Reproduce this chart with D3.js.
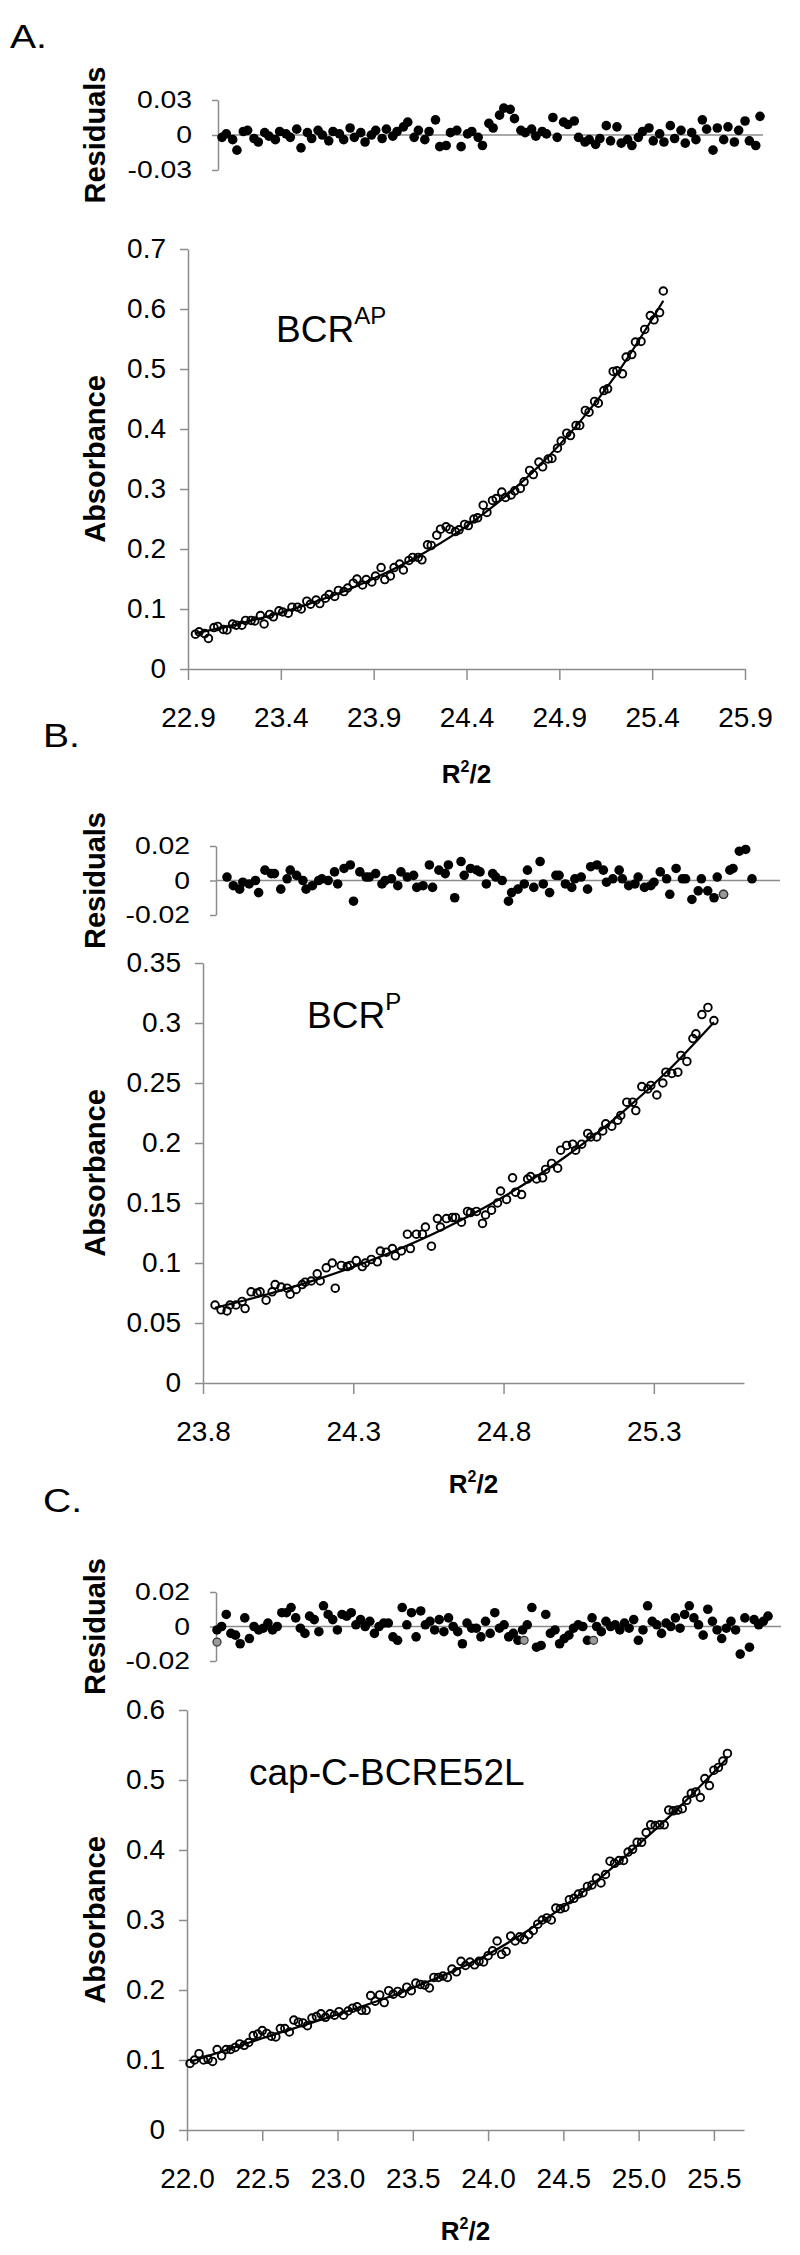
<!DOCTYPE html>
<html>
<head>
<meta charset="utf-8">
<script src="https://cdnjs.cloudflare.com/ajax/libs/d3/7.8.5/d3.min.js"></script>
<style>
  body { margin: 0; background: #fff; }
  svg text { font-family: "Liberation Sans", Arial, sans-serif; fill: #000; }
</style>
</head>
<body>
<div id="chart"></div>
<script>
'use strict';

// ---------- panel A : BCR^AP ----------
const xA = [22.94,22.96,22.99,23.01,23.04,23.06,23.09,23.11,23.14,23.16,23.19,23.21,23.24,23.26,23.29,23.31,23.34,23.36,23.39,23.41,
            23.44,23.46,23.49,23.51,23.54,23.56,23.59,23.61,23.64,23.66,23.69,23.71,23.74,23.76,23.79,23.81,23.84,23.86,23.89,23.91,
            23.94,23.96,23.99,24.01,24.04,24.06,24.09,24.11,24.14,24.16,24.19,24.21,24.24,24.26,24.29,24.31,24.34,24.36,24.39,24.41,
            24.44,24.46,24.49,24.51,24.54,24.56,24.59,24.61,24.64,24.66,24.69,24.71,24.74,24.76,24.79,24.81,24.84,24.86,24.89,24.91,
            24.94,24.96,24.99,25.01,25.04,25.06,25.09,25.11,25.14,25.16,25.19,25.21,25.24,25.26,25.29,25.31,25.34,25.36,25.39,25.41,
            25.44,25.46];
const absA = [.058,.062,.059,.051,.069,.071,.066,.065,.075,.073, .073,.081,.081,.080,.089,.075,.091,.087,.097,.095,
              .093,.103,.103,.100,.113,.108,.115,.109,.118,.124, .121,.131,.129,.135,.143,.150,.140,.149,.145,.155,
              .169,.149,.155,.169,.175,.165,.181,.186,.186,.182, .207,.206,.223,.233,.237,.233,.229,.232,.241,.239,
              .250,.252,.273,.261,.281,.284,.295,.286,.290,.297, .301,.312,.331,.324,.345,.337,.350,.351,.368,.380,
              .393,.389,.406,.406,.431,.428,.446,.443,.464,.467, .496,.497,.492,.520,.524,.545,.546,.566,.589,.582,
              .594,.630];
const resA = [-.002,.001,-.004,-.013,.003,.004,-.003,-.006,.002,-.001, -.004,.003,.001,-.002,.005,-.011,.002,-.003,.004,.000,
              -.005,.003,.001,-.004,.006,-.002,.002,-.006,.000,.004, -.003,.005,-.001,.003,.007,.011,-.002,.004,-.004,.003,
              .013,-.010,-.009,.002,.004,-.010,.001,.003,-.002,-.009, .010,.006,.017,.023,.022,.014,.004,.002,.005,-.001,
              .003,.001,.015,-.002,.011,.009,.012,-.002,-.006,-.004, -.008,-.003,.008,-.005,.007,-.007,-.004,-.009,-.002,.003,
              .006,-.005,.001,-.006,.008,-.003,.004,-.007,.002,-.004, .013,.005,-.013,.006,-.004,.007,-.006,.004,.012,-.005,
              -.009,.016];
const fitXA = [22.94,23.2,23.5,23.8,24.1,24.4,24.6,24.8,25.0,25.2,25.46];
const fitYA = [0.0596,0.0774,0.1034,0.1372,0.1811,0.2381,0.2852,0.3414,0.4081,0.4876,0.6138];
const greyXA = [];
const greyResA = [];
const xTicksA = [22.9,23.4,23.9,24.4,24.9,25.4,25.9];
const yTicksA = [0,0.1,0.2,0.3,0.4,0.5,0.6,0.7];
const resTicksA = [-0.03,0,0.03];

// ---------- panel B : BCR^P ----------
const xB = [23.84,23.86,23.88,23.89,23.91,23.93,23.94,23.96,23.98,23.99,24.01,24.03,24.04,24.06,24.08,24.09,24.11,24.13,24.14,24.16,
            24.18,24.19,24.21,24.23,24.24,24.26,24.28,24.29,24.31,24.33,24.34,24.36,24.38,24.39,24.41,24.43,24.44,24.46,24.48,24.49,
            24.51,24.53,24.54,24.56,24.58,24.59,24.61,24.63,24.64,24.66,24.68,24.69,24.71,24.73,24.74,24.76,24.78,24.79,24.81,24.83,
            24.84,24.86,24.88,24.89,24.91,24.93,24.94,24.96,24.98,24.99,25.01,25.03,25.04,25.06,25.08,25.09,25.11,25.13,25.14,25.16,
            25.18,25.19,25.21,25.23,25.24,25.26,25.28,25.29,25.31,25.33,25.34,25.36,25.38,25.39,25.41,25.43,25.44,25.46,25.48,25.50];
const absB = [.065,.061,.060,.065,.065,.068,.062,.076,.075,.076, .069,.076,.082,.080,.079,.074,.078,.082,.084,.085,
              .091,.085,.096,.100,.079,.098,.097,.098,.102,.097, .100,.103,.101,.110,.109,.112,.106,.110,.124,.112,
              .124,.124,.130,.114,.137,.130,.137,.138,.138,.134, .143,.142,.143,.133,.140,.144,.150,.160,.153,.171,
              .159,.157,.170,.172,.170,.171,.178,.183,.179,.194, .198,.199,.194,.199,.208,.205,.205,.210,.216,.214,
              .219,.223,.234,.234,.227,.247,.245,.248,.240,.250, .259,.258,.259,.273,.268,.287,.291,.307,.313,.302];
const resB = [.002,-.003,-.005,-.001,-.002,.000,-.007,.006,.004,.004, -.005,.001,.006,.003,.000,-.005,-.003,.000,.001,.000,
              .005,-.002,.007,.009,-.012,.005,.002,.002,.004,-.002, .000,.001,-.003,.005,.002,.003,-.004,-.003,.009,-.004,
              .006,.004,.009,-.010,.011,.003,.007,.006,.005,-.002, .004,.002,.000,-.012,-.007,-.005,-.002,.006,-.004,.011,
              -.002,-.007,.003,.003,-.002,-.004,.001,.002,-.005,.008, .009,.006,-.001,.001,.006,.001,-.003,-.002,.002,-.004,
              -.003,-.001,.005,.001,-.008,.007,.001,.001,-.011,-.006, .001,-.006,-.010,.002,-.008,.006,.007,.017,.018,.001];
const fitXB = [23.84,24.0,24.2,24.4,24.6,24.8,25.0,25.2,25.35,25.5];
const fitYB = [0.0626,0.0729,0.0880,0.1063,0.1284,0.1552,0.1875,0.2265,0.2610,0.3007];
const greyXB = [25.41];
const greyResB = [-0.008];
const xTicksB = [23.8,24.3,24.8,25.3];
const yTicksB = [0,0.05,0.1,0.15,0.2,0.25,0.3,0.35];
const resTicksB = [-0.02,0,0.02];

// ---------- panel C : cap-C-BCRE52L ----------
const xC = [22.02,22.05,22.08,22.11,22.14,22.17,22.20,22.23,22.26,22.29,22.32,22.35,22.38,22.41,22.44,22.47,22.50,22.53,22.56,22.59,
            22.62,22.65,22.68,22.71,22.74,22.77,22.80,22.83,22.86,22.89,22.92,22.95,22.98,23.01,23.04,23.07,23.10,23.13,23.16,23.19,
            23.22,23.25,23.28,23.31,23.34,23.37,23.40,23.43,23.46,23.49,23.52,23.55,23.58,23.61,23.64,23.67,23.70,23.73,23.76,23.79,
            23.82,23.85,23.88,23.91,23.94,23.97,24.00,24.03,24.06,24.09,24.12,24.15,24.18,24.21,24.24,24.27,24.30,24.33,24.36,24.39,
            24.42,24.45,24.48,24.51,24.54,24.57,24.60,24.63,24.66,24.69,24.72,24.75,24.78,24.81,24.84,24.87,24.90,24.93,24.96,24.99,
            25.02,25.05,25.08,25.11,25.14,25.17,25.20,25.23,25.26,25.29,25.32,25.35,25.38,25.41,25.44,25.47,25.50,25.53,25.56,25.59];
const absC = [.095,.100,.109,.100,.101,.098,.115,.106,.115,.115, .118,.123,.121,.125,.135,.137,.142,.138,.134,.133,
              .145,.145,.140,.157,.154,.153,.149,.160,.162,.166, .161,.166,.164,.169,.164,.170,.174,.176,.171,.171,
              .192,.184,.193,.182,.199,.194,.198,.195,.204,.199, .210,.208,.207,.203,.218,.218,.220,.218,.230,.226,
              .241,.235,.240,.236,.241,.240,.249,.256,.270,.251, .255,.277,.270,.276,.272,.279,.285,.294,.300,.303,
              .300,.317,.316,.318,.329,.331,.337,.339,.348,.350, .360,.353,.365,.384,.381,.385,.385,.397,.401,.411,
              .411,.425,.436,.435,.436,.436,.457,.456,.457,.459, .471,.481,.483,.475,.502,.492,.514,.518,.527,.538];
const resC = [-.002,.000,.007,-.004,-.005,-.010,.005,-.007,.000,-.002, -.001,.002,-.002,.000,.008,.008,.011,.005,-.001,-.004,
              .006,.004,-.003,.012,.007,.004,-.002,.007,.006,.008, .001,.004,.000,.003,-.004,.000,.002,.002,-.006,-.008,
              .011,.001,.008,-.006,.009,.001,.003,-.002,.004,-.003, .005,.000,-.003,-.010,.002,-.001,-.001,-.006,.003,-.004,
              .008,-.001,.001,-.006,-.004,-.008,-.002,.001,.011,-.012, -.011,.007,-.004,-.002,-.010,-.007,-.005,-.001,.001,.000,
              -.008,.005,.000,-.003,.003,.000,.001,-.002,.002,-.001, .004,-.008,-.002,.012,.003,.001,-.004,.002,.000,.005,
              -.001,.007,.012,.005,.001,-.005,.010,.003,-.002,-.007, -.001,.003,-.002,-.016,.005,-.012,.004,.001,.003,.006];
const fitXC = [22.02,22.5,23.0,23.5,24.0,24.25,24.5,24.75,25.0,25.25,25.59];
const fitYC = [0.0974,0.131,0.165,0.203,0.251,0.283,0.319,0.361,0.408,0.457,0.5316];
const greyXC = [22.02,24.01,24.46];
const greyResC = [-0.009,-0.008,-0.008];
const xTicksC = [22.0,22.5,23.0,23.5,24.0,24.5,25.0,25.5];
const yTicksC = [0,0.1,0.2,0.3,0.4,0.5,0.6];
const resTicksC = [-0.02,0,0.02];

// layout of the three stacked panels (pixels)
const panels = [
  { letter: 'A.', letterX: 10, letterY: 48,
    x: xA, abs: absA, res: resA, fitX: fitXA, fitY: fitYA, greyX: greyXA, greyRes: greyResA,
    xDomain: [22.9, 25.9], yMax: 0.7, xTicks: xTicksA, yTicks: yTicksA,
    resMax: 0.03, resTicks: resTicksA,
    resAxisX: 218, resTop: 100, resBottom: 170, resDataL: 222, resDataR: 760, resLineR: 763,
    left: 188, right: 745, top: 249, bottom: 669, xLabelY: 783,
    title: 'BCR', sup: 'AP', titleX: 276, titleY: 342 },
  { letter: 'B.', letterX: 43, letterY: 747,
    x: xB, abs: absB, res: resB, fitX: fitXB, fitY: fitYB, greyX: greyXB, greyRes: greyResB,
    xDomain: [23.8, 25.6], yMax: 0.35, xTicks: xTicksB, yTicks: yTicksB,
    resMax: 0.02, resTicks: resTicksB,
    resAxisX: 216, resTop: 846, resBottom: 915, resDataL: 227, resDataR: 752, resLineR: 780,
    left: 203, right: 744, top: 963, bottom: 1383, xLabelY: 1493,
    title: 'BCR', sup: 'P', titleX: 307, titleY: 1028 },
  { letter: 'C.', letterX: 43, letterY: 1512,
    x: xC, abs: absC, res: resC, fitX: fitXC, fitY: fitYC, greyX: greyXC, greyRes: greyResC,
    xDomain: [22.0, 25.7], yMax: 0.6, xTicks: xTicksC, yTicks: yTicksC,
    resMax: 0.02, resTicks: resTicksC,
    resAxisX: 216, resTop: 1592, resBottom: 1661, resDataL: 217, resDataR: 768, resLineR: 781,
    left: 187, right: 744, top: 1710, bottom: 2130, xLabelY: 2240,
    title: 'cap-C-BCRE52L', sup: '', titleX: 249, titleY: 1785 }
];

const axisColor = '#8c8c8c';
const labelX = 105;   // baseline of the rotated axis titles
const fmtY = d => d === 0 ? '0' : String(+d.toFixed(2));
const fmtX = d => d.toFixed(1);

const svg = d3.select('#chart').append('svg')
    .attr('width', 800)
    .attr('height', 2255);

function styleAxis(g, size) {
    g.attr('font-family', '"Liberation Sans", Arial, sans-serif').attr('font-size', size);
    g.selectAll('.domain').attr('stroke', axisColor).attr('stroke-width', 1.5);
    g.selectAll('.tick line').attr('stroke', axisColor).attr('stroke-width', 1.5);
    g.selectAll('.tick text').attr('fill', '#000');
}

function drawPanel(p) {
    const g = svg.append('g');

    // the original figure is slightly stretched sideways, so letters get a small x-scale
    g.append('text')
        .attr('transform', 'translate(' + p.letterX + ',' + p.letterY + ') scale(1.15,1)')
        .attr('font-size', 34)
        .text(p.letter);

    // --- residuals strip ---
    const rx = d3.scaleLinear().domain([p.x[0], p.x[p.x.length - 1]]).range([p.resDataL, p.resDataR]);
    const ry = d3.scaleLinear().domain([-p.resMax, p.resMax]).range([p.resBottom, p.resTop]);

    g.append('line')
        .attr('x1', p.resAxisX).attr('x2', p.resLineR)
        .attr('y1', ry(0)).attr('y2', ry(0))
        .attr('stroke', axisColor).attr('stroke-width', 1.5);

    const ra = g.append('g')
        .attr('transform', 'translate(' + p.resAxisX + ',0)')
        .call(d3.axisLeft(ry).tickValues(p.resTicks).tickSize(6).tickSizeOuter(0).tickPadding(19).tickFormat(fmtY));
    styleAxis(ra, 24);
    ra.selectAll('.tick text').attr('x', -22).attr('transform', 'scale(1.18,1)');

    g.append('g').selectAll('circle')
        .data(p.res)
        .enter()
        .append('circle')
        .attr('cx', (d, i) => rx(p.x[i]))
        .attr('cy', d => ry(d))
        .attr('r', 4.8)
        .attr('fill', '#000');

    g.append('g').selectAll('circle')
        .data(p.greyRes)
        .enter()
        .append('circle')
        .attr('cx', (d, i) => rx(p.greyX[i]))
        .attr('cy', d => ry(d))
        .attr('r', 4)
        .attr('fill', '#9a9a9a')
        .attr('stroke', '#333')
        .attr('stroke-width', 1.2);

    g.append('text')
        .attr('transform', 'translate(' + labelX + ',' + ((p.resTop + p.resBottom) / 2) + ') rotate(-90)')
        .attr('text-anchor', 'middle')
        .attr('font-size', 29).attr('font-weight', 'bold')
        .text('Residuals');

    // --- absorbance plot ---
    const mx = d3.scaleLinear().domain(p.xDomain).range([p.left, p.right]);
    const my = d3.scaleLinear().domain([0, p.yMax]).range([p.bottom, p.top]);

    const ya = g.append('g')
        .attr('transform', 'translate(' + p.left + ',0)')
        .call(d3.axisLeft(my).tickValues(p.yTicks).tickSize(8).tickSizeOuter(0).tickPadding(14).tickFormat(fmtY));
    styleAxis(ya, 28);

    const xa = g.append('g')
        .attr('transform', 'translate(0,' + p.bottom + ')')
        .call(d3.axisBottom(mx).tickValues(p.xTicks).tickSize(11).tickSizeOuter(0).tickPadding(27).tickFormat(fmtX));
    styleAxis(xa, 28);

    g.append('g').selectAll('circle')
        .data(p.abs)
        .enter()
        .append('circle')
        .attr('cx', (d, i) => mx(p.x[i]))
        .attr('cy', d => my(d))
        .attr('r', 3.8)
        .attr('fill', 'none')
        .attr('stroke', '#000')
        .attr('stroke-width', 1.9);

    const line = d3.line()
        .x((d, i) => mx(p.fitX[i]))
        .y(d => my(d))
        .curve(d3.curveMonotoneX);
    g.append('path')
        .attr('d', line(p.fitY))
        .attr('fill', 'none')
        .attr('stroke', '#000')
        .attr('stroke-width', 2.2);

    const t = g.append('text')
        .attr('x', p.titleX).attr('y', p.titleY)
        .attr('font-size', 37)
        .text(p.title);
    if (p.sup) {
        t.append('tspan').attr('font-size', 24).attr('dy', -18).text(p.sup);
    }

    g.append('text')
        .attr('transform', 'translate(' + labelX + ',' + ((p.top + p.bottom) / 2) + ') rotate(-90)')
        .attr('text-anchor', 'middle')
        .attr('font-size', 29).attr('font-weight', 'bold')
        .text('Absorbance');

    const xl = g.append('text')
        .attr('x', (p.left + p.right) / 2).attr('y', p.xLabelY)
        .attr('text-anchor', 'middle')
        .attr('font-size', 26).attr('font-weight', 'bold')
        .text('R');
    xl.append('tspan').attr('font-size', 16).attr('dy', -11).text('2');
    xl.append('tspan').attr('dy', 11).text('/2');
}

panels.forEach(drawPanel);
</script>
</body>
</html>
